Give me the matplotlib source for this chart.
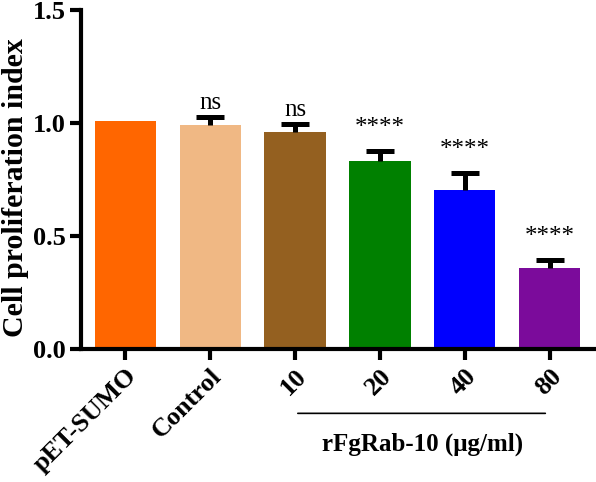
import matplotlib.pyplot as plt
import numpy as np

plt.rcParams["font.family"] = ["Liberation Serif", "DejaVu Serif"]

groups = ["pET-SUMO", "Control", "10", "20", "40", "80"]
values = [1.01, 0.99, 0.962, 0.832, 0.704, 0.359]
errors = [0.0, 0.035, 0.035, 0.044, 0.074, 0.035]
signif = ["", "ns", "ns", "****", "****", "****"]
colors = ["#FF6600", "#F0B884", "#946020", "#008000", "#0000FF", "#7B0B9B"]

fig = plt.figure(figsize=(5.96, 4.82), dpi=100)
ax = fig.add_axes([0.136, 0.276, 0.862, 0.703])

x = np.arange(len(groups))
vals = np.array(values)
errs = np.array(errors)
ax.bar(x, vals, width=0.72, color=colors, zorder=2)

# upper-only error bars (SD), skip the reference group
has_err = errs > 0
ax.vlines(x[has_err], vals[has_err], vals[has_err] + errs[has_err],
          color="black", lw=3.6, zorder=3)
ax.hlines(vals[has_err] + errs[has_err], x[has_err] - 0.165, x[has_err] + 0.165,
          color="black", lw=3.6, zorder=3)

# significance marks
for i, s in enumerate(signif):
    if not s:
        continue
    top = vals[i] + errs[i]
    if s == "ns":
        ax.text(x[i], top + 0.013, s, ha="center", va="bottom", fontsize=18)
    else:
        ax.text(x[i], top + 0.055, s, ha="center", va="bottom", fontsize=18)

ax.set_xlim(-0.52, 5.53)
ax.set_ylim(0, 1.5)
ax.set_yticks([0.0, 0.5, 1.0, 1.5])
ax.set_yticklabels(["0.0", "0.5", "1.0", "1.5"], fontsize=19, fontweight="bold")
ax.set_xticks(x)
ax.set_xticklabels(groups, rotation=45, ha="right", rotation_mode="anchor",
                   fontsize=19, fontweight="bold")
ax.set_ylabel("Cell proliferation index", fontsize=21.5, fontweight="bold")
ax.yaxis.set_label_coords(-0.102, 0.475)

for side in ["top", "right"]:
    ax.spines[side].set_visible(False)
for side in ["left", "bottom"]:
    ax.spines[side].set_linewidth(3)
ax.tick_params(width=3, length=8, direction="out", pad=3)

# bracket for the rFgRab-10 doses
ax.annotate("", xy=(2, -0.285), xytext=(4.98, -0.285), xycoords="data",
            annotation_clip=False,
            arrowprops=dict(arrowstyle="-", lw=1.2, color="black"))
ax.text(3.5, -0.42, "rFgRab-10 (\u03bcg/ml)", ha="center", va="center",
        fontsize=18, fontweight="bold", transform=ax.transData, clip_on=False)

fig.savefig("out.png", dpi=100)
